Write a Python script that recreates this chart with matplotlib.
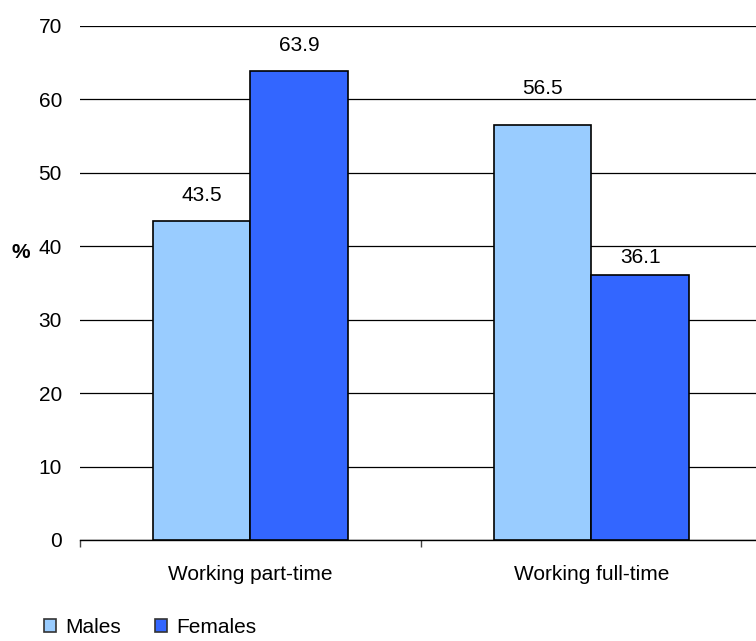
import matplotlib.pyplot as plt
import numpy as np

plt.rcParams['font.family'] = ['Liberation Sans', 'DejaVu Sans']

# Share of each group (%), by working pattern
categories = ['Working part-time', 'Working full-time']
males = [43.5, 56.5]
females = [63.9, 36.1]

fig = plt.figure(figsize=(7.56, 6.41), dpi=100)
ax = fig.add_axes([0.1058, 0.1576, 0.902, 0.802])

x = np.arange(len(categories))
w = 0.286
b1 = ax.bar(x - w / 2, males, w, color='#99CCFF', edgecolor='black', linewidth=1.2, label='Males', zorder=3)
b2 = ax.bar(x + w / 2, females, w, color='#3366FF', edgecolor='black', linewidth=1.2, label='Females', zorder=3)

# value labels above each bar (gap in points between bar top and text baseline)
gaps = {'Males': [14, 22], 'Females': [14, 8.5]}
for bars, vals, name in ((b1, males, 'Males'), (b2, females, 'Females')):
    for bar, v, g in zip(bars, vals, gaps[name]):
        ax.annotate(f'{v:.1f}', (bar.get_x() + bar.get_width() / 2, v),
                    xytext=(0, g), textcoords='offset points',
                    ha='center', va='baseline', fontsize=15)

ax.set_ylim(0, 70)
ax.set_xlim(-0.5, len(categories) - 0.5)
ax.set_yticks(range(0, 71, 10))
ax.yaxis.grid(True, color='black', linewidth=0.9)
ax.set_axisbelow(True)

for s in ('left', 'right', 'top'):
    ax.spines[s].set_visible(False)
ax.spines['bottom'].set_linewidth(1)

ax.tick_params(axis='y', length=0, pad=13, labelsize=15)
# category labels centred, ticks at the group boundaries
ax.set_xticks(x)
ax.set_xticklabels(categories, fontsize=15)
ax.tick_params(axis='x', which='major', length=0, pad=18)
ax.set_xticks(np.arange(-0.5, len(categories) + 0.5), minor=True)
ax.tick_params(axis='x', which='minor', length=5, width=1, color='#444444')

fig.text(21 / 756, 1 - 253 / 641, '%', fontsize=15, fontweight='bold', ha='center', va='center')

leg = fig.legend(loc='lower left', bbox_to_anchor=(0.058, 0.006), ncol=2, frameon=False,
                 fontsize=15, handlelength=0.6, handleheight=0.6, handletextpad=0.45,
                 columnspacing=1.6, borderpad=0, borderaxespad=0)
for h in leg.legend_handles:
    h.set_edgecolor('#333333')

fig.savefig('out.png', dpi=100)
